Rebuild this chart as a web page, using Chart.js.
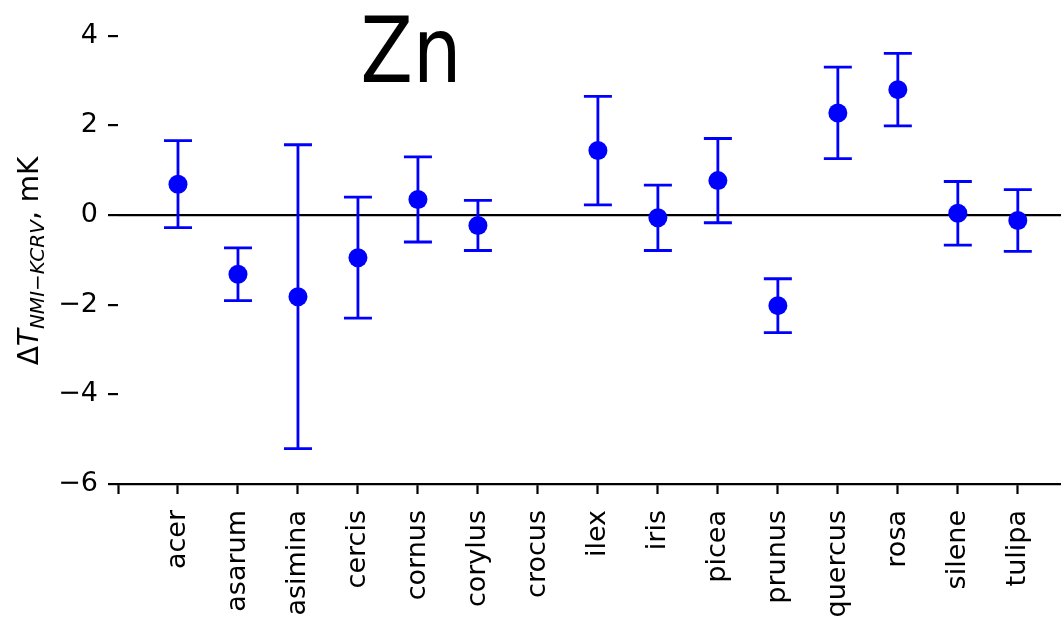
<!DOCTYPE html>
<html>
<head>
<meta charset="utf-8">
<script src="https://cdn.jsdelivr.net/npm/chart.js@4.4.0/dist/chart.umd.min.js"></script>
<style>
  body { margin: 0; background: #fff; }
  #wrap { width: 1061px; height: 619px; }
</style>
</head>
<body>
<div id="wrap"><canvas id="chart" width="1061" height="619"></canvas></div>
<script>
// ---------------- Data ----------------
const categories = ["acer", "asarum", "asimina", "cercis", "cornus", "corylus", "crocus",
                    "ilex", "iris", "picea", "prunus", "quercus", "rosa", "silene", "tulipa"];
const deltaT = [0.69, -1.32, -1.82, -0.95, 0.35, -0.23, null, 1.44, -0.06, 0.77, -2.02, 2.28, 2.80, 0.04, -0.12];
const uncertainty = [0.97, 0.59, 3.39, 1.35, 0.95, 0.56, null, 1.21, 0.73, 0.94, 0.60, 1.02, 0.81, 0.71, 0.69];
const yTicks = [-6, -4, -2, 0, 2, 4];
const titleText = "Zn";

const points = [];
deltaT.forEach((v, i) => {
    if (v !== null) points.push({ x: i, y: v });
});

const FONT = "DejaVu Sans";

// ---------------- Error bars ----------------
const errorBars = {
    id: "errorBars",
    beforeDatasetsDraw(chart) {
        const { ctx, scales: { x, y } } = chart;
        ctx.save();
        ctx.strokeStyle = "#0000ff";
        ctx.lineWidth = 2.8;
        deltaT.forEach((v, i) => {
            if (v === null) return;
            const px = x.getPixelForValue(i);
            const top = y.getPixelForValue(v + uncertainty[i]);
            const bot = y.getPixelForValue(v - uncertainty[i]);
            ctx.beginPath();
            ctx.moveTo(px, top); ctx.lineTo(px, bot);
            ctx.moveTo(px - 14, top); ctx.lineTo(px + 14, top);
            ctx.moveTo(px - 14, bot); ctx.lineTo(px + 14, bot);
            ctx.stroke();
        });
        ctx.restore();
    }
};

// ---------------- Axis label + title ----------------
const labels = {
    id: "labels",
    afterDraw(chart) {
        const ctx = chart.ctx;
        ctx.save();
        ctx.fillStyle = "#000";

        // y axis label, mathtext-like
        const parts = [
            { t: "\u0394", f: "28px " + FONT, dy: 0 },
            { t: "T", f: "italic 28px " + FONT, dy: 0 },
            { t: "NMI\u2212KCRV", f: "italic 20px " + FONT, dy: 6 },
            { t: ", mK", f: "28px " + FONT, dy: 0 }
        ];
        let total = 0;
        parts.forEach(p => { ctx.font = p.f; p.w = ctx.measureText(p.t).width; total += p.w; });
        ctx.translate(38, 261);
        ctx.rotate(-Math.PI / 2);
        ctx.textBaseline = "alphabetic";
        let cx = -total / 2;
        parts.forEach(p => {
            ctx.font = p.f;
            ctx.fillText(p.t, cx, p.dy);
            cx += p.w;
        });
        ctx.restore();

        // big title inside plot
        ctx.save();
        ctx.font = "90px " + FONT;
        ctx.textAlign = "center";
        ctx.textBaseline = "alphabetic";
        ctx.translate(411, 82);
        ctx.scale(0.85, 1);
        ctx.fillText(titleText, 0, 0);
        ctx.restore();
    }
};

const chart = new Chart(document.getElementById("chart"), {
    type: "scatter",
    data: {
        datasets: [{
            data: points,
            pointRadius: 9.5,
            pointHoverRadius: 9.5,
            pointBackgroundColor: "#0000ff",
            pointBorderWidth: 0,
            showLine: false
        }]
    },
    options: {
        responsive: false,
        animation: false,
        devicePixelRatio: 1,
        layout: { padding: 0, autoPadding: false },
        plugins: {
            legend: { display: false },
            tooltip: { enabled: false }
        },
        scales: {
            x: {
                type: "linear",
                min: -1,
                max: 14.72,
                afterFit: (s) => {
                    s.height = 135;
                    s.paddingLeft = 0; s.paddingRight = 0;
                },
                afterBuildTicks: (s) => {
                    s.ticks = [-1].concat(categories.map((c, i) => i)).map(v => ({ value: v }));
                },
                border: { display: true, color: "#000", width: 2.2 },
                grid: { drawOnChartArea: false, tickLength: 10, tickColor: "#000", tickWidth: 2.2 },
                ticks: {
                    autoSkip: false,
                    maxRotation: 90,
                    minRotation: 90,
                    padding: 16,
                    color: "#000",
                    font: { family: FONT, size: 27 },
                    callback: (v) => categories[v] || ""
                }
            },
            y: {
                min: -6,
                max: 4.8,
                afterFit: (s) => {
                    s.width = 118;
                    s.paddingTop = 0; s.paddingBottom = 0;
                },
                afterBuildTicks: (s) => { s.ticks = yTicks.map(v => ({ value: v })); },
                border: { display: false },
                grid: {
                    color: (c) => (c.tick && c.tick.value === 0 ? "#000" : "rgba(0,0,0,0)"),
                    lineWidth: 2.2,
                    tickLength: 10,
                    tickColor: "#000",
                    tickWidth: 2.2
                },
                ticks: {
                    padding: 10,
                    color: "#000",
                    font: { family: FONT, size: 27 },
                    callback: (v) => (v < 0 ? "\u2212" + Math.abs(v) : String(v))
                }
            }
        }
    },
    plugins: [errorBars, labels]
});
</script>
</body>
</html>
